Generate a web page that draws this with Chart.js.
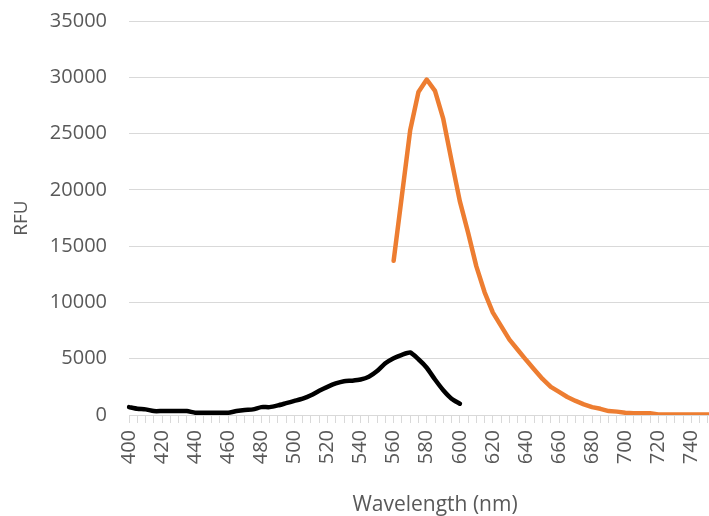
<!DOCTYPE html>
<html>
<head>
<meta charset="utf-8">
<script src="https://cdn.jsdelivr.net/npm/chart.js@4/dist/chart.umd.min.js"></script>
<style>
html, body { margin:0; padding:0; background:#ffffff; overflow:hidden; }
#canvasSpectre { display:block; margin-top:-13px; }
</style>
</head>
<body>
<canvas id="canvasSpectre" width="772" height="531"></canvas>
<script>
// Longueurs d'onde (nm), une categorie tous les 5 nm
var longueursOnde = [
    400,405,410,415,420,425,430,435,440,445,450,455,460,465,470,475,480,485,490,495,
    500,505,510,515,520,525,530,535,540,545,550,555,560,565,570,575,580,585,590,595,
    600,605,610,615,620,625,630,635,640,645,650,655,660,665,670,675,680,685,690,695,
    700,705,710,715,720,725,730,735,740,745,750,755,760,765,770
];

// Serie noire : de 400 a 600 nm
var debutNoir = 400;
var valeursNoir = [
    700,550,500,350,350,350,350,350,200,200,200,200,200,350,450,500,700,700,850,1050,
    1250,1450,1750,2150,2500,2800,3000,3050,3150,3400,3900,4600,5050,5350,5550,4950,4200,3150,2200,1450,
    1000
];

// Serie orange : de 560 a 755 nm
var debutOrange = 560;
var valeursOrange = [
    13700,19500,25300,28700,29800,28800,26300,22600,19000,16200,13200,10900,9100,7900,6700,5800,4900,4050,3200,2500,
    2050,1600,1250,950,700,550,350,300,200,150,150,150,50,50,50,50,50,50,50,50
];

// Graduations de l'axe des y
var minY = 0;
var maxY = 35000;
var pasY = 5000;

// Place une serie sur toutes les categories (null ailleurs)
function AlignerSerie(debut, valeurs)
{
    var resultat = [];
    var depart = longueursOnde.indexOf(debut);
    for(var i = 0; i < longueursOnde.length; i++)
    {
        var j = i - depart;
        if(j >= 0 && j < valeurs.length)
        {
            resultat.push(valeurs[j]);
        }
        else
        {
            resultat.push(null);
        }
    }
    return resultat;
}

function DessinerSpectre()
{
    var police = "'Open Sans', 'DejaVu Sans', sans-serif";
    var gris = '#595959';
    var grille = '#d9d9d9';

    var chartdata = {
        labels: longueursOnde,
        datasets: [
            {
                label: 'Orange',
                data: AlignerSerie(debutOrange, valeursOrange),
                borderColor: '#ed7d31',
                backgroundColor: '#ed7d31',
                borderWidth: 4.5,
                pointRadius: 0,
                tension: 0,
                borderJoinStyle: 'round',
                borderCapStyle: 'round',
                spanGaps: false
            },
            {
                label: 'Noir',
                data: AlignerSerie(debutNoir, valeursNoir),
                borderColor: '#000000',
                backgroundColor: '#000000',
                borderWidth: 4.5,
                pointRadius: 0,
                tension: 0.2,
                borderJoinStyle: 'round',
                borderCapStyle: 'round',
                spanGaps: false
            }
        ]
    };

    var graphTarget = document.getElementById('canvasSpectre');

    var lineGraph = new Chart(graphTarget, {
        type: 'line',
        data: chartdata,
        options: {
            responsive: false,
            animation: false,
            layout: { padding: { left: 7, right: 0, top: 0, bottom: 0 } },
            plugins: {
                legend: { display: false },
                tooltip: { enabled: false }
            },
            scales: {
                x: {
                    type: 'category',
                    offset: false,
                    afterFit: function(scale)
                    {
                        scale.height = 103;
                    },
                    grid: {
                        display: true,
                        drawOnChartArea: false,
                        drawTicks: true,
                        tickLength: 8,
                        color: grille
                    },
                    border: { display: true, color: grille, width: 1 },
                    ticks: {
                        autoSkip: false,
                        minRotation: 90,
                        maxRotation: 90,
                        padding: 7,
                        color: gris,
                        font: { family: police, size: 20 },
                        callback: function(valeur, index)
                        {
                            var l = longueursOnde[index];
                            return (l % 20 === 0) ? String(l) : '';
                        }
                    },
                    title: {
                        display: true,
                        text: 'Wavelength (nm)',
                        color: gris,
                        font: { family: police, size: 21 },
                        padding: { top: 0, bottom: 0 }
                    }
                },
                y: {
                    min: minY,
                    max: maxY,
                    afterFit: function(scale)
                    {
                        scale.width = 122;
                    },
                    grid: {
                        color: grille,
                        drawTicks: false,
                        lineWidth: 1
                    },
                    border: { display: false },
                    ticks: {
                        stepSize: pasY,
                        padding: 22,
                        color: gris,
                        font: { family: police, size: 20 },
                        callback: function(valeur)
                        {
                            return String(valeur);
                        }
                    },
                    title: {
                        display: true,
                        text: 'RFU',
                        color: gris,
                        font: { family: police, size: 19 },
                        padding: { top: 3, bottom: 0 }
                    }
                }
            }
        }
    });
}

DessinerSpectre();
</script>
</body>
</html>
